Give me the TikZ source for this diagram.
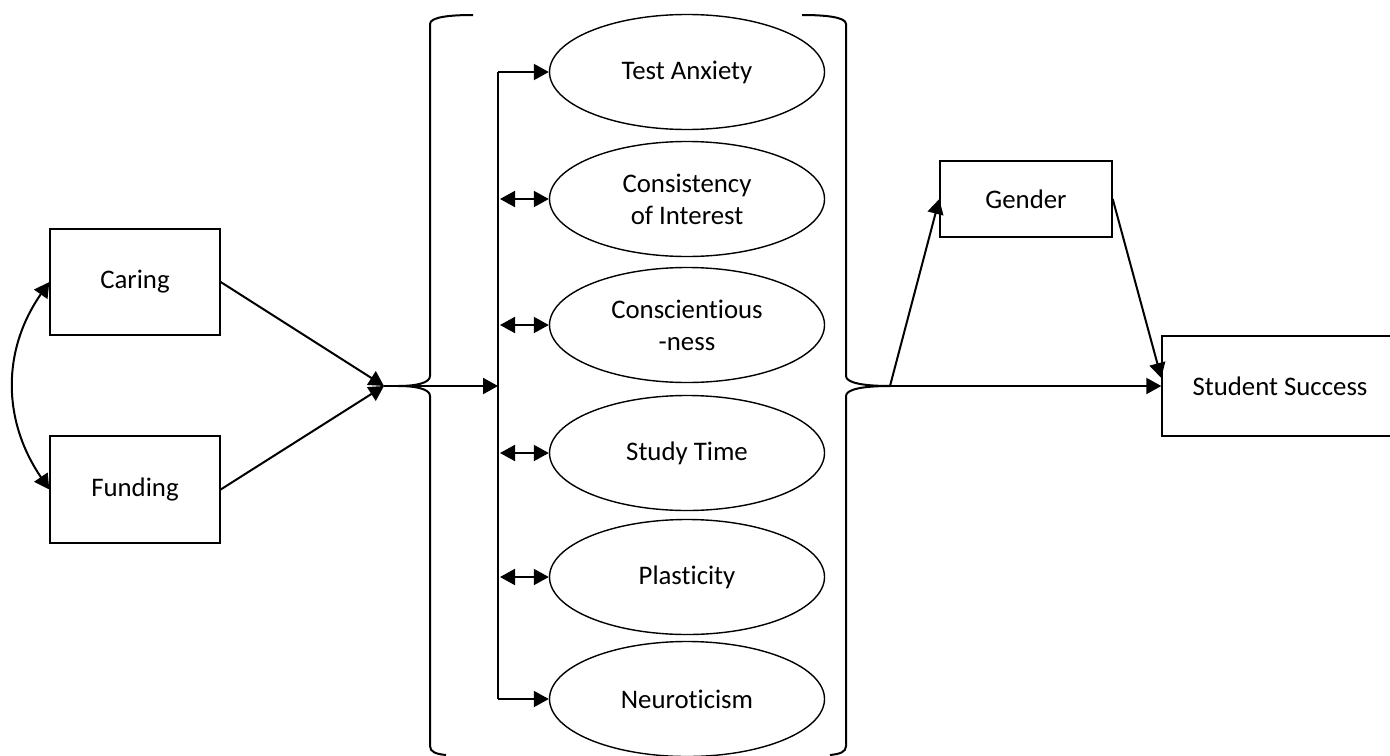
\documentclass[tikz,border=0pt]{standalone}
\usepackage{fontspec}
\setmainfont{Carlito}[Ligatures=NoCommon]
\usetikzlibrary{arrows.meta,shapes.geometric}

\tikzset{
  lbl/.style={font=\fontsize{13.4}{16}\selectfont, align=center, text=black},
  box/.style={lbl, draw, line width=0.7pt, inner sep=0pt},
  factor/.style={lbl, draw, ellipse, line width=0.7pt, inner sep=0pt,
                 minimum width=137.5pt, minimum height=57.5pt},
  link/.style={line width=1pt, -{Triangle[length=7.5pt,width=8pt]}},
  twoway/.style={line width=1pt, {Triangle[length=7.5pt,width=8pt]}-{Triangle[length=7.5pt,width=8pt]}},
  brace/.style={line width=1pt}
}

\begin{document}
\begin{tikzpicture}[x=0.5pt,y=-0.5pt]
  \useasboundingbox (0,0) rectangle (1390,755);

  % exogenous variables
  \node[box, minimum width=85pt, minimum height=53pt] (caring) at (135,282) {Caring};
  \node[box, minimum width=85pt, minimum height=53.5pt] (funding) at (135,489.5) {Funding};

  % grit-related factors
  \node[factor] (anx)  at (687,72)  {Test Anxiety};
  \node[factor] (cons) at (687,199) {Consistency\\of Interest};
  \node[factor] (cnsc) at (687,325) {Conscientious\\-ness};
  \node[factor] (time) at (687,453) {Study Time};
  \node[factor] (plas) at (687,577) {Plasticity};
  \node[factor] (neur) at (687,699) {Neuroticism};

  % moderator and outcome
  \node[box, minimum width=86pt, minimum height=38pt] (gender) at (1026,199) {Gender};
  \node[box, minimum width=118pt, minimum height=50pt] (success) at (1280,386) {Student Success};

  % junction points
  \coordinate (merge) at (384,386);
  \coordinate (busin) at (498,386);
  \coordinate (bustop) at (498,72);
  \coordinate (busbot) at (498,699);
  \coordinate (out) at (890,386);

  % braces around the factor block
  \draw[brace] (473,15) .. controls (450,15) and (430,17) .. (430,24)
    -- (430,376) .. controls (430,383) and (416,386) .. (398,386)
    .. controls (416,386) and (430,389) .. (430,396)
    -- (430,746) .. controls (430,752) and (436,754) .. (446,755);
  \draw[brace] (802,15) .. controls (825,15) and (846,17) .. (846,24)
    -- (846,376) .. controls (846,383) and (864,386) .. (out)
    .. controls (864,386) and (846,389) .. (846,396)
    -- (846,746) .. controls (846,752) and (840,754) .. (830,755);

  % correlation between the exogenous variables
  \draw[twoway] (caring.west) .. controls (2,350) and (2,420) .. (funding.west);

  % paths into the factor block
  \draw[link] (caring.east) -- (merge);
  \draw[link] (funding.east) -- (merge);
  \draw[link] (merge) -- (busin);
  \draw[line width=1pt] (bustop) -- (busbot);
  \draw[link] (bustop) -- (anx.west);
  \draw[link] (busbot) -- (neur.west);
  \foreach \f in {cons,cnsc,time,plas}
    \draw[twoway] (busin |- \f.west) ++(2,0) -- (\f.west);

  % paths out of the factor block
  \draw[link] (out) -- (success.west);
  \draw[link] (out) -- (gender.west);
  \draw[link] (gender.east) -- ([yshift=4pt]success.west);
\end{tikzpicture}
\end{document}
